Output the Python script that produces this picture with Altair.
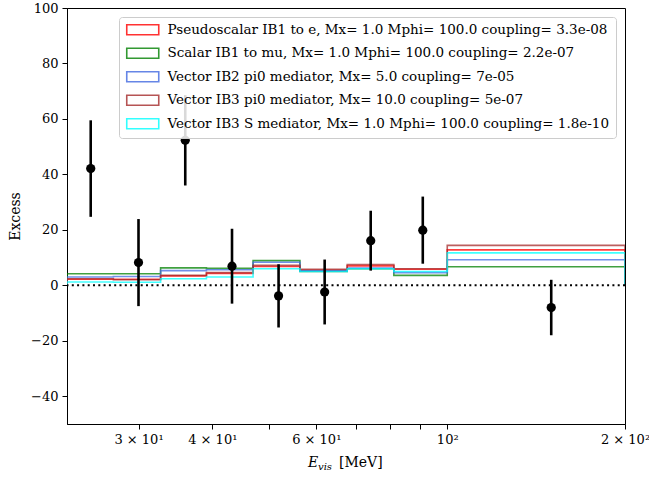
import altair as alt
import pandas as pd

# Bin edges of the visible-energy histogram [MeV]
edges = [22.7, 27.2, 32.7, 39.1, 46.9, 56.3, 67.7, 81.2, 100.0, 200.0]

# Model predictions per bin (9 bins)
labels = [
    "Pseudoscalar IB1 to e, Mx= 1.0 Mphi= 100.0 coupling= 3.3e-08",
    "Scalar IB1 to mu, Mx= 1.0 Mphi= 100.0 coupling= 2.2e-07",
    "Vector IB2 pi0 mediator, Mx= 5.0 coupling= 7e-05",
    "Vector IB3 pi0 mediator, Mx= 10.0 coupling= 5e-07",
    "Vector IB3 S mediator, Mx= 1.0 Mphi= 100.0 coupling= 1.8e-10",
]
colors = ["#ff0000", "#008000", "#4169e1", "#a52a2a", "#00ffff"]
pseudoscalar_e = [2.2, 2.2, 3.4, 4.3, 6.8, 5.4, 7.0, 5.8, 12.8]
scalar_mu = [4.2, 4.2, 6.3, 6.1, 8.9, 5.0, 6.0, 3.6, 6.7]
vector_ib2_pi0 = [3.0, 3.2, 5.3, 5.6, 8.3, 5.2, 6.2, 4.6, 9.2]
vector_ib3_pi0 = [2.4, 2.0, 3.6, 4.6, 7.2, 5.8, 7.5, 6.0, 14.4]
vector_ib3_s = [1.2, 1.1, 2.4, 3.0, 6.0, 5.0, 6.0, 5.0, 11.7]
series = [pseudoscalar_e, scalar_mu, vector_ib2_pi0, vector_ib3_pi0, vector_ib3_s]

# Measured excess with symmetric uncertainties
data_x = [24.9, 30.0, 36.0, 43.2, 51.8, 62.0, 74.2, 90.9, 150.0]
data_y = [42.1, 8.2, 52.3, 6.9, -3.8, -2.4, 16.1, 19.9, -8.0]
data_err = [17.4, 15.7, 16.3, 13.5, 11.4, 11.7, 10.8, 12.1, 10.0]

# Step outlines (histtype="step"): drop to zero at both ends
rows = []
for name, vals in zip(labels, series):
    pts = [(edges[0], 0.0)] + [(edges[i], v) for i, v in enumerate(vals)]
    pts += [(edges[-1], vals[-1]), (edges[-1], 0.0)]
    for k, (e, v) in enumerate(pts):
        rows.append({"model": name, "E": e, "excess": v, "k": k})
steps_df = pd.DataFrame(rows)

pts_df = pd.DataFrame({"E": data_x, "excess": data_y, "err": data_err})
pts_df["lo"] = pts_df["excess"] - pts_df["err"]
pts_df["hi"] = pts_df["excess"] + pts_df["err"]

FONT = "DejaVu Serif"
W, H = 558, 416

x_scale = alt.Scale(type="log", domain=[22.7, 200], nice=False)
y_scale = alt.Scale(domain=[-50, 100], nice=False, zero=False)

x_axis = alt.Axis(
    values=[30, 40, 50, 60, 70, 80, 90, 100, 200],
    labelExpr=(
        "datum.value == 30 ? '3 × 10¹' : datum.value == 40 ? '4 × 10¹' : "
        "datum.value == 60 ? '6 × 10¹' : datum.value == 100 ? '10²' : "
        "datum.value == 200 ? '2 × 10²' : ''"
    ),
    title=None, labelOverlap=False, labelFlush=False, labelPadding=4,
)
y_axis = alt.Axis(
    values=[-40, -20, 0, 20, 40, 60, 80, 100],
    labelExpr="replace(datum.label, '-', '−')",
    title="Excess", titlePadding=8, titleFontWeight="normal",
    titleFontSize=14, titleFont=FONT, labelPadding=4,
)

# legend patch: 32 x 10 px outlined rectangle
steps = alt.Chart(steps_df).mark_line(
    interpolate="step-after", strokeWidth=1.6, opacity=0.75, clip=True
).encode(
    x=alt.X("E:Q", scale=x_scale, axis=x_axis),
    y=alt.Y("excess:Q", scale=y_scale, axis=y_axis),
    color=alt.Color(
        "model:N",
        scale=alt.Scale(domain=labels, range=colors),
        sort=labels,
        legend=alt.Legend(
            title=None, orient="none", legendX=52, legendY=9,
            symbolType="M-3.2,-1H3.2V1H-3.2Z", symbolSize=100,
            symbolStrokeWidth=1.6, symbolFillColor="transparent",
            symbolOpacity=0.8, symbolOffset=11,
            labelFont=FONT, labelFontSize=13.5, labelColor="black",
            labelOffset=18, labelLimit=0, rowPadding=6.5,
            fillColor="rgba(255,255,255,0.85)", strokeColor="#cccccc",
            cornerRadius=3, padding=6,
        ),
    ),
    order="k:Q",
    detail="model:N",
)

zero = alt.Chart(pd.DataFrame({"v": [0]})).mark_rule(
    color="black", strokeWidth=2, strokeDash=[2, 3.3]
).encode(y=alt.Y("v:Q", scale=y_scale))

bars = alt.Chart(pts_df).mark_rule(color="black", strokeWidth=2.6).encode(
    x=alt.X("E:Q", scale=x_scale), y=alt.Y("lo:Q", scale=y_scale), y2="hi:Q"
)
dots = alt.Chart(pts_df).mark_circle(color="black", size=85, opacity=1).encode(
    x=alt.X("E:Q", scale=x_scale), y=alt.Y("excess:Q", scale=y_scale)
)

# x-axis title: italic E with subscript "vis", then unit
title_df = pd.DataFrame({"t": [0]})
t_e = alt.Chart(title_df).mark_text(
    text="E", font=FONT, fontStyle="italic", fontSize=14, align="left", baseline="alphabetic"
).encode(x=alt.value(241), y=alt.value(459))
t_vis = alt.Chart(title_df).mark_text(
    text="vis", font=FONT, fontStyle="italic", fontSize=10, align="left", baseline="alphabetic"
).encode(x=alt.value(251), y=alt.value(462))
t_unit = alt.Chart(title_df).mark_text(
    text="[MeV]", font=FONT, fontSize=14, align="left", baseline="alphabetic"
).encode(x=alt.value(272), y=alt.value(459))

chart = alt.layer(steps, zero, bars, dots, t_e, t_vis, t_unit).properties(
    width=W, height=H,
    padding={"left": 67, "top": 8, "right": 649 - 67 - W, "bottom": 478 - 8 - H},
    autosize=alt.AutoSizeParams(type="none"),
).configure_view(
    stroke="black", strokeWidth=1
).configure_axis(
    domainColor="black", tickColor="black", labelColor="black",
    labelFont=FONT, labelFontSize=13, tickSize=5, grid=False,
)

chart.save("out.html", embed_options={"renderer": "svg", "actions": False})
